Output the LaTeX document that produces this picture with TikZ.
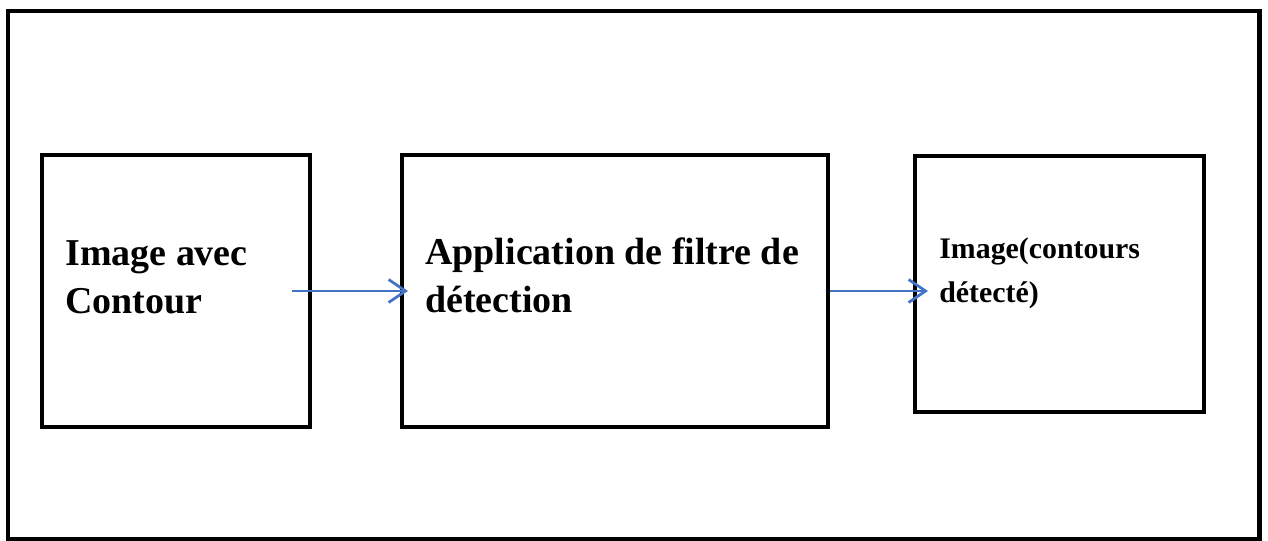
\documentclass[tikz,border=0pt]{standalone}
\usepackage{fontspec}
\setmainfont{Liberation Serif}
\usetikzlibrary{positioning,arrows.meta}
\definecolor{flowblue}{RGB}{68,114,196}

\begin{document}
\begin{tikzpicture}[
    x=0.02cm, y=-0.02cm,
    >={Straight Barb[length=0.34cm, width=0.46cm]},
    frame/.style={draw, line width=0.1cm},
    box/.style={draw, line width=0.09cm, outer sep=0, inner sep=0},
    flow/.style={->, draw=flowblue, line width=0.055cm},
    label/.style={font=\bfseries\fontsize{21.6}{27.3}\selectfont,
                  align=left, inner sep=0, anchor=base west},
    small/.style={font=\bfseries\fontsize{17}{25}\selectfont}]

    \useasboundingbox (0,0) rectangle (1268,541);
    \draw[frame] (8,11) rectangle (1259,539);

    \node[box, minimum width=5.36cm, minimum height=5.44cm] (b1) at (176,291) {};
    \node[box, minimum width=8.52cm, minimum height=5.44cm] (b2) at (615,291) {};
    \node[box, minimum width=5.78cm, minimum height=5.12cm] (b3) at (1059.5,284) {};

    % base anchor sits on the last line
    \node[label] (t1) at (65,313) {Image avec\\Contour};
    \node[label] (t2) at (425,312) {Application de filtre de\\détection};
    \node[label, small] (t3) at (939,302) {Image(contours\\détecté)};

    \coordinate (e2) at (b2.east -| b3.west);
    \draw[flow] ([xshift=-0.36cm]b1.east) -- ([xshift=0.12cm]b2.west);
    \draw[flow] ([xshift=0.04cm]b2.east) -- ([xshift=0.26cm]e2);

\end{tikzpicture}
\end{document}
